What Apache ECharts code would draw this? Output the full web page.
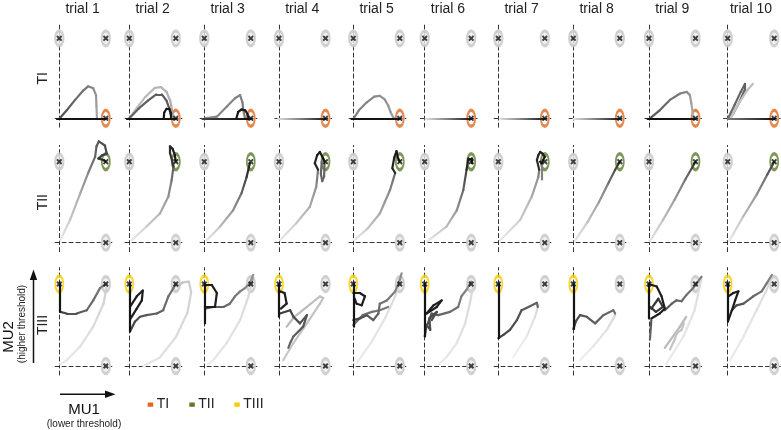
<!DOCTYPE html>
<html><head><meta charset="utf-8">
<script src="https://cdn.jsdelivr.net/npm/echarts@6/dist/echarts.min.js"></script>
<style>html,body{margin:0;padding:0;background:#fff}#c{width:781px;height:430px}</style>
</head><body><div id="c"></div>
<script>
// ---------------- data ----------------
const TRIALS = ['trial 1','trial 2','trial 3','trial 4','trial 5','trial 6','trial 7','trial 8','trial 9','trial 10'];
const CONDITIONS = ['TI','TII','TIII'];
const TARGET_POINTS = [[1,0],[1,1],[0,1]];
const OTHER_POINTS = [[[0,1],[1,1]], [[0,1],[1,0]], [[1,1],[1,0]]];

// trajectories: per trial, list of strokes (MU1, MU2)
const TI_PATHS = [
  [[[0.01,0],[0.16,0.10],[0.34,0.23],[0.52,0.35],[0.62,0.40],[0.73,0.375],[0.79,0.29],[0.80,0.145],[0.81,0]], [[-0.05,0],[1,0]]],
  [[[0,0],[0.15,0.12],[0.35,0.27],[0.55,0.38],[0.68,0.39],[0.8,0.33],[0.88,0.22],[0.92,0.1],[0.95,0]],
   [[0,0],[0.2,0.12],[0.4,0.22],[0.58,0.3],[0.7,0.3],[0.8,0.22],[0.86,0.12],[0.9,0.02]],
   [[0.74,0],[0.75,0.07],[0.8,0.12],[0.86,0.12],[0.9,0.06],[0.9,0]], [[-0.05,0],[1,0]]],
  [[[0.01,0],[0.27,0.02],[0.48,0.145],[0.66,0.25],[0.77,0.29],[0.82,0.2],[0.84,0.1],[0.875,0]],
   [[0.69,0],[0.73,0.08],[0.8,0.11],[0.88,0.1],[0.93,0.05],[0.95,0]], [[-0.04,0],[1,0]]],
  [[[-0.02,0],[1,0]]],
  [[[0.01,0],[0.12,0.1],[0.29,0.2],[0.45,0.27],[0.57,0.28],[0.67,0.24],[0.75,0.16],[0.8,0.08],[0.86,0.01],[0.95,0]], [[-0.04,0],[1,0]]],
  [[[0.02,0],[1,0]]],
  [[[0.03,0],[1,0]]],
  [[[0.0,0],[1,0]]],
  [[[0.02,0],[0.23,0.10],[0.45,0.23],[0.67,0.31],[0.81,0.33],[0.88,0.29],[0.91,0.19],[0.94,0.06],[0.95,0]], [[-0.03,0],[1,0]]],
  [[[0.01,0],[0.15,0.17],[0.28,0.33],[0.37,0.43],[0.37,0.36],[0.25,0.2],[0.12,0.06],[0.05,0]],
   [[0.06,0],[0.25,0.2],[0.42,0.35],[0.54,0.43]], [[0.0,0],[1,0]]]
];
const TII_PATHS = [
  [[[0.02,0.03],[0.23,0.28],[0.45,0.61],[0.62,0.86],[0.77,1.06]],
   [[0.77,1.06],[0.8,1.19],[0.85,1.25],[0.98,1.2],[1.02,1.1],[0.92,1.08],[0.84,1.04],[0.95,1.02],[1.0,1.0]]],
  [[[0.05,0.03],[0.37,0.2],[0.66,0.36],[0.84,0.57],[0.91,0.77],[0.95,0.94]],
   [[0.95,0.94],[0.88,1.1],[0.875,1.19],[0.93,1.16],[0.98,1.08],[1.0,1.0]]],
  [[[0.05,0.03],[0.34,0.2],[0.62,0.40],[0.80,0.61],[0.91,0.81],[0.98,0.98]]],
  [[[0.02,0.03],[0.37,0.24],[0.66,0.44],[0.80,0.69],[0.84,0.90]],
   [[0.92,1.0],[0.9,0.85],[0.93,0.76],[0.97,0.82],[0.98,0.98]],
   [[0.84,0.9],[0.77,0.98],[0.82,1.08],[0.88,1.12],[0.95,1.04],[0.98,1.0]]],
  [[[0.02,0.03],[0.3,0.17],[0.57,0.36],[0.79,0.65],[0.90,0.86]],
   [[0.9,0.86],[0.84,0.92],[0.88,1.05],[0.93,1.13],[0.96,1.05],[1.0,1.0]]],
  [[[0.04,0.01],[0.47,0.2],[0.69,0.40],[0.83,0.65],[0.90,0.9]],
   [[0.9,0.9],[0.94,1.04],[1.01,1.04],[1.01,0.98]]],
  [[[0.04,0.03],[0.47,0.28],[0.72,0.57],[0.86,0.81],[0.88,0.9]],
   [[0.93,0.98],[0.93,0.78]],
   [[0.88,0.9],[0.83,1.02],[0.86,1.08],[0.9,1.12],[0.95,1.1],[1.0,1.06],[0.93,0.98],[0.9,1.0]]],
  [[[0.03,0.02],[0.3,0.25],[0.55,0.5],[0.75,0.73],[0.9,0.9],[1.0,1.0]]],
  [[[0.02,0.02],[0.3,0.28],[0.55,0.53],[0.78,0.78],[0.92,0.92],[1.0,1.0]]],
  [[[0.03,0.02],[0.33,0.32],[0.63,0.6],[0.85,0.84],[1.0,1.0]]]
];
const TIII_PATHS = [
  [[[0.02,0.02],[0.16,0.07],[0.45,0.24],[0.73,0.48],[0.95,0.76],[1.02,0.97]],
   [[1.0,1.0],[0.875,0.95],[0.73,0.80],[0.59,0.68],[0.37,0.64],[0.16,0.64],[0.02,0.66]],
   [[0.015,0.66],[0.015,1.0]]],
  [[[0.3,0.0],[0.65,0.1],[1.0,0.35],[1.25,0.65],[1.33,0.9],[1.28,1.03],[1.15,1.02],[1.04,0.97]],
   [[0.015,0.42],[0.12,0.54],[0.23,0.60],[0.37,0.62],[0.59,0.64],[0.73,0.68],[0.84,0.85],[0.95,0.95],[1.0,1.0]],
   [[0.015,0.72],[0.16,0.85],[0.29,0.92],[0.27,0.8],[0.16,0.70],[0.03,0.58]],
   [[0.015,1.0],[0.015,0.42]]],
  [[[0.08,0.02],[0.19,0.07],[0.48,0.28],[0.77,0.56],[0.95,0.85],[1.03,1.05]],
   [[0.015,0.7],[0.19,0.72],[0.41,0.72],[0.55,0.76],[0.66,0.85],[0.77,0.91],[0.875,0.95],[0.98,1.01],[1.05,1.11],[1.02,1.02]],
   [[0.015,0.99],[0.16,0.99],[0.27,0.89],[0.23,0.72],[0.015,0.72]],
   [[0.015,1.0],[0.015,0.52]]],
  [[[0.09,0.07],[0.31,0.28],[0.6,0.52],[0.88,0.76],[0.95,0.83],[0.88,0.85],[0.6,0.72],[0.33,0.6],[0.165,0.48]],
   [[0.02,0.64],[0.24,0.68],[0.31,0.60],[0.45,0.52],[0.6,0.62],[0.52,0.48],[0.31,0.36],[0.24,0.28],[0.2,0.22]],
   [[0.02,0.91],[0.12,0.89],[0.165,0.76],[0.04,0.70]],
   [[0.0,1.0],[0.0,0.6]]],
  [[[0.08,0.04],[0.4,0.3],[0.7,0.6],[0.9,0.85],[1.0,1.0]],
   [[0.0,0.5],[0.2,0.62],[0.4,0.66],[0.57,0.68],[0.75,0.72]],
   [[0.0,0.56],[0.14,0.58],[0.29,0.62],[0.43,0.56],[0.54,0.64],[0.57,0.76],[0.72,0.80],[0.90,0.91],[1.0,1.05],[1.04,1.13]],
   [[0.0,0.89],[0.14,0.89],[0.25,0.85],[0.18,0.74],[0.07,0.76],[0.03,0.82]],
   [[0,1.0],[0,0.48]]],
  [[[0.3,0.02],[0.47,0.11],[0.69,0.28],[0.87,0.52],[0.97,0.76],[1.04,0.97]],
   [[0.04,0.48],[0.15,0.64],[0.29,0.62],[0.545,0.66],[0.72,0.72],[0.79,0.85],[0.90,0.93],[1.0,1.03]],
   [[0.0,0.36],[0.04,0.5],[0.12,0.44],[0.1,0.58],[0.26,0.66],[0.15,0.56]],
   [[0.04,0.64],[0.19,0.74],[0.365,0.80],[0.26,0.72],[0.04,0.64]],
   [[0,1.0],[0,0.36]]],
  [[[0.32,0.11],[0.61,0.36],[0.79,0.60],[0.86,0.74]],
   [[0,0.34],[0.11,0.38],[0.25,0.44],[0.40,0.56],[0.50,0.68],[0.65,0.72],[0.83,0.77],[0.85,0.72]],
   [[0,1.0],[0,0.34]]],
  [[[0.145,0.07],[0.43,0.24],[0.72,0.44],[0.90,0.62]],
   [[0,0.45],[0.06,0.55],[0.145,0.62],[0.29,0.60],[0.47,0.52],[0.645,0.62],[0.86,0.68],[0.9,0.64]],
   [[0,1.0],[0,0.45]]],
  [[[0.38,0.03],[0.74,0.36],[0.98,0.68],[1.13,1.07]],
   [[0.34,0.22],[0.665,0.48],[0.80,0.60]],
   [[0.45,0.2],[0.55,0.32],[0.6,0.4],[0.7,0.44],[0.75,0.52]],
   [[0.34,0.68],[0.49,0.76],[0.59,0.80],[0.70,0.79],[0.81,0.87],[0.95,0.95],[1.13,1.09]],
   [[0.05,0.56],[0.02,0.32]],
   [[0.05,0.7],[0.2,0.82],[0.3,0.72],[0.15,0.66],[0.02,0.72]],
   [[0,1.0],[0.165,0.97],[0.27,0.85],[0.34,0.70],[0.23,0.64],[0.05,0.58]],
   [[0,1],[0,0.58]]],
  [[[0.05,0.07],[0.34,0.36],[0.62,0.68],[0.84,0.93],[0.95,1.11]],
   [[0.09,0.68],[0.19,0.74],[0.34,0.76],[0.55,0.85],[0.73,0.91],[0.84,1.01],[0.95,1.11]],
   [[0.015,0.85],[0.12,0.89],[0.23,0.91],[0.16,0.8],[0.09,0.68],[0.015,0.56]],
   [[0,1],[0,0.54]]]
];

// ---------------- styles (grey level at stroke start / end) ----------------
const TI_SHADES = [
  [[80,170],[20,20]],
  [[190,170],[100,85],[25,25],[20,20]],
  [[140,120],[25,25],[70,10]],
  [[232,10]],
  [[125,160],[20,20]],
  [[235,10]],
  [[235,10]],
  [[235,10]],
  [[85,185],[20,20]],
  [[105,90],[200,185],[130,10]]
];
const TII_SHADES = [
  [[235,100],[100,40]],
  [[235,90],[55,20]],
  [[235,20]],
  [[235,110],[100,100],[40,20]],
  [[235,100],[40,20]],
  [[235,60],[40,20]],
  [[235,110],[130,130],[45,20]],
  [[235,40]],
  [[230,40]],
  [[235,55]]
];
const TIII_SHADES = [
  [[238,205],[130,65],[20,20]],
  [[232,190],[65,125],[30,30],[20,20]],
  [[235,215],[85,155],[30,30],[20,20]],
  [[200,185],[60,105],[30,30],[20,20]],
  [[235,215],[105,125],[65,145],[30,30],[20,20]],
  [[235,215],[75,145],[75,75],[30,30],[20,20]],
  [[240,215],[60,105],[20,20]],
  [[240,215],[65,115],[20,20]],
  [[235,220],[185,185],[195,195],[85,125],[85,105],[55,55],[30,30],[20,20]],
  [[235,215],[65,135],[30,30],[20,20]]
];
const PATHS = [TI_PATHS, TII_PATHS, TIII_PATHS];
const SHADES = [TI_SHADES, TII_SHADES, TIII_SHADES];
const COND_COLORS = ['#E0691F','#5D7D2B','#F7CD00'];

// ---------------- layout ----------------
const COL_X0 = [59.3,129.3,204.3,279,353.3,424.7,498.3,573.3,649,727.7];
const ROW_Y0 = [118.3,242.7,366];
const ROW_UNIT = [80,81,82];
const X_UNIT = 46.5;
const XMIN = -0.09, XMAX = 1.13, YMIN = -0.11, YMAX = 1.2;
const FONT = 'Liberation Sans, Arial, Helvetica, sans-serif';
const ELLIPSE = 'path://M0,10A10,10,0,1,1,20,10A10,10,0,1,1,0,10Z';
const CROSS = 'path://M2.3,0L5,2.7L7.7,0L10,2.3L7.3,5L10,7.7L7.7,10L5,7.3L2.3,10L0,7.7L2.7,5L0,2.3Z';

const rgb = g => 'rgb(' + g + ',' + g + ',' + g + ')';
function strokeSegments(points, shade) {
  const n = points.length, out = [];
  for (let i = 0; i < n - 1; i++) {
    const a = points[i], b = points[i + 1];
    const ga = Math.round(shade[0] + (shade[1] - shade[0]) * i / (n - 1));
    const gb = Math.round(shade[0] + (shade[1] - shade[0]) * (i + 1) / (n - 1));
    const xr = a[0] <= b[0], yr = a[1] <= b[1];
    out.push({
      coords: [a, b],
      lineStyle: { color: { type: 'linear', x: xr ? 0 : 1, y: yr ? 1 : 0, x2: xr ? 1 : 0, y2: yr ? 0 : 1,
        colorStops: [{ offset: 0, color: rgb(ga) }, { offset: 1, color: rgb(gb) }] } }
    });
  }
  return out;
}

const grids = [], xAxes = [], yAxes = [], series = [];
const axisLine = { show: true, onZero: true, lineStyle: { color: '#333', width: 1, type: [4, 3] } };
for (let r = 0; r < 3; r++) {
  for (let c = 0; c < 10; c++) {
    const gi = r * 10 + c, u = ROW_UNIT[r];
    grids.push({ left: COL_X0[c] + XMIN * X_UNIT, width: (XMAX - XMIN) * X_UNIT,
                 top: ROW_Y0[r] - YMAX * u, height: (YMAX - YMIN) * u });
    xAxes.push({ gridIndex: gi, type: 'value', min: XMIN, max: XMAX, axisLine: axisLine,
                 axisTick: { show: false }, axisLabel: { show: false }, splitLine: { show: false } });
    yAxes.push({ gridIndex: gi, type: 'value', min: YMIN, max: YMAX, axisLine: axisLine,
                 axisTick: { show: false }, axisLabel: { show: false }, splitLine: { show: false } });
    series.push({ type: 'scatter', xAxisIndex: gi, yAxisIndex: gi, data: OTHER_POINTS[r], symbol: ELLIPSE,
      symbolSize: [8.5, 15], itemStyle: { color: '#ececec', borderColor: '#c6c6c6', borderWidth: 2.5 },
      z: 2, silent: true, clip: false });
    series.push({ type: 'scatter', name: CONDITIONS[r], xAxisIndex: gi, yAxisIndex: gi, data: [TARGET_POINTS[r]],
      symbol: ELLIPSE, symbolSize: [8, 16],
      itemStyle: { color: 'rgba(255,255,255,0)', borderColor: COND_COLORS[r], borderWidth: 2.5 },
      z: 3, silent: true, clip: false });
    let segs = [];
    PATHS[r][c].forEach((p, k) => { segs = segs.concat(strokeSegments(p, SHADES[r][c][k])); });
    series.push({ type: 'lines', coordinateSystem: 'cartesian2d', xAxisIndex: gi, yAxisIndex: gi,
      data: segs, lineStyle: { width: 2.2, opacity: 1, cap: 'round', join: 'round', curveness: 0 }, z: 4, silent: true, clip: false });
    series.push({ type: 'scatter', xAxisIndex: gi, yAxisIndex: gi,
      data: OTHER_POINTS[r].concat([TARGET_POINTS[r]]), symbol: CROSS, symbolSize: 6,
      itemStyle: { color: '#111' }, z: 5, silent: true, clip: false });
  }
}

const graphic = [];
TRIALS.forEach((t, c) => graphic.push({ type: 'text', x: COL_X0[c] + 0.5 * X_UNIT, y: 9,
  style: { text: t, font: '14px ' + FONT, fill: '#222', align: 'center', verticalAlign: 'middle' } }));
CONDITIONS.forEach((t, r) => graphic.push({ type: 'text', x: 43.5, y: ROW_Y0[r] - 0.5 * ROW_UNIT[r],
  rotation: Math.PI / 2,
  style: { text: t, font: '14px ' + FONT, fill: '#222', align: 'center', verticalAlign: 'middle' } }));
// axis arrows
graphic.push({ type: 'line', shape: { x1: 33.5, y1: 363, x2: 33.5, y2: 279 }, style: { stroke: '#111', lineWidth: 1.5 } });
graphic.push({ type: 'polygon', shape: { points: [[33.5, 269.5], [29.8, 280], [37.2, 280]] }, style: { fill: '#111' } });
graphic.push({ type: 'line', shape: { x1: 60, y1: 394.3, x2: 106, y2: 394.3 }, style: { stroke: '#111', lineWidth: 1.5 } });
graphic.push({ type: 'polygon', shape: { points: [[115.5, 394.3], [105, 390.6], [105, 398]] }, style: { fill: '#111' } });
graphic.push({ type: 'text', x: 8.5, y: 337, rotation: Math.PI / 2,
  style: { text: 'MU2', font: '15px ' + FONT, fill: '#111', align: 'center', verticalAlign: 'middle' } });
graphic.push({ type: 'text', x: 22.5, y: 324, rotation: Math.PI / 2,
  style: { text: '(higher threshold)', font: '10px ' + FONT, fill: '#222', align: 'center', verticalAlign: 'middle' } });
graphic.push({ type: 'text', x: 84, y: 409.5,
  style: { text: 'MU1', font: '15px ' + FONT, fill: '#111', align: 'center', verticalAlign: 'middle' } });
graphic.push({ type: 'text', x: 84, y: 424,
  style: { text: '(lower threshold)', font: '10px ' + FONT, fill: '#222', align: 'center', verticalAlign: 'middle' } });
// legend
const LEG_X = [147.7, 189.3, 234.3];
CONDITIONS.forEach((t, r) => {
  graphic.push({ type: 'rect', shape: { x: LEG_X[r], y: 402.5, width: 5.5, height: 4.3 }, style: { fill: COND_COLORS[r] } });
  graphic.push({ type: 'text', x: LEG_X[r] + 9, y: 404.5,
    style: { text: t, font: '14px ' + FONT, fill: '#222', align: 'left', verticalAlign: 'middle' } });
});

const chart = echarts.init(document.getElementById('c'), null, { renderer: 'canvas' });
chart.setOption({ animation: false, backgroundColor: '#fff', grid: grids, xAxis: xAxes, yAxis: yAxes,
  series: series, graphic: graphic });
</script></body></html>
